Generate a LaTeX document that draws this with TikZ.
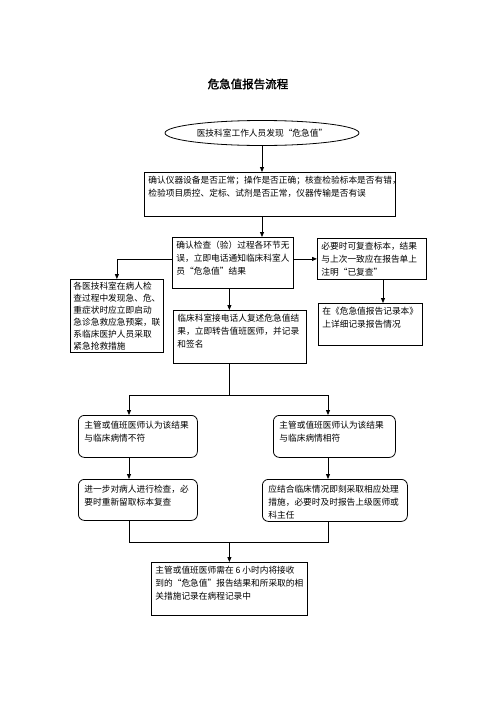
\documentclass[tikz,border=0pt]{standalone}
\usepackage{fontspec}
\usepackage{tikz}
\usetikzlibrary{arrows.meta,positioning,calc,shapes.geometric}
\newfontfamily\cjk{Noto Sans CJK SC}
\newfontfamily\cjkbf[FakeBold=2]{Noto Sans CJK SC}
\newcommand{\boxtxt}[3]{\parbox[c][#2pt][t]{#1pt}{#3}}

\begin{document}
\begin{tikzpicture}[
  x=1pt, y=-1pt,
  font=\cjk\fontsize{8.7}{13}\selectfont,
  box/.style={draw=black, line width=0.8pt, inner sep=4pt, anchor=north west},
  rbox/.style={box, rounded corners=6pt, inner sep=6pt},
  start/.style={ellipse, draw=black, line width=0.8pt, minimum width=194pt, minimum height=25pt, inner sep=0pt},
  arr/.style={-{Triangle[length=5pt,width=4pt]}, line width=0.8pt},
  ln/.style={line width=0.8pt},
]
\useasboundingbox (0,0) rectangle (496,702);
% title
\node[font=\cjkbf\fontsize{11.5}{14}\selectfont] (title) at (248,84) {危急值报告流程};
% start
\node[start] (el) at (262,133) {医技科室工作人员发现“危急值”};
% boxes
\node[box] (b2) at (144,172) {\boxtxt{243}{36}{确认仪器设备是否正常；操作是否正确；核查检验标本是否有错，\\检验项目质控、定标、试剂是否正常，仪器传输是否有误}};
\node[box] (b3) at (172,237) {\boxtxt{113}{43}{确认检查（验）过程各环节无\\误，立即电话通知临床科室人\\员“危急值”结果}};
\node[box] (b4) at (317,238) {\boxtxt{101}{33}{必要时可复查标本，结果\\与上次一致应在报告单上\\注明“已复查”}};
\node[box, inner sep=3pt, font=\cjk\fontsize{8.7}{12}\selectfont] (b5) at (70,279) {\boxtxt{87}{67}{各医技科室在病人检\\查过程中发现急、危、\\重症状时应立即启动\\急诊急救应急预案，联\\系临床医护人员采取\\紧急抢救措施}};
\node[box] (b6) at (173,310) {\boxtxt{125}{45}{临床科室接电话人复述危急值结\\果，立即转告值班医师，并记录\\和签名}};
\node[box] (b7) at (318,303) {\boxtxt{96}{34}{在《危急值报告记录本》\\上详细记录报告情况}};
% rounded boxes
\node[rbox] (b8) at (78,415) {\boxtxt{107}{30}{主管或值班医师认为该结果\\与临床病情不符}};
\node[rbox] (b9) at (273,415) {\boxtxt{110}{30}{主管或值班医师认为该结果\\与临床病情相符}};
\node[rbox] (b10) at (78,479) {\boxtxt{107}{29}{进一步对病人进行检查，必\\要时重新留取标本复查}};
\node[rbox] (b11) at (262,479) {\boxtxt{133}{30}{应结合临床情况即刻采取相应处理\\措施，必要时及时报告上级医师或\\科主任}};
% last
\node[box] (b12) at (151,562) {\boxtxt{148}{45}{主管或值班医师需在 6 小时内将接收\\到的“危急值”报告结果和所采取的相\\关措施记录在病程记录中}};

% joints
\coordinate (r) at (383,0);
\coordinate (jl) at (129,395);
\coordinate (jr) at (328,395);
\coordinate (kl) at (129,542);
\coordinate (kr) at (328,542);

% connectors
\draw[arr] (el.south) -- (el.south |- b2.north);
\draw[arr] (b2.south -| el.south) -- (b3.north -| el.south);
\draw[arr] (b3.east |- b4.west) -- (b4.west);
\draw[arr] (b3.west |- b4.west) -| (b5.north);
\draw[arr] (b3.south -| b12.north) -- (b6.north -| b12.north);
\draw[arr] (b4.south -| r) -- (b7.north -| r);
\draw[ln] (b6.south -| b12.north) -- (b12.north |- jl);
\draw[ln] (jl) -- (jr);
\draw[arr] (jl) -- (b8.north -| jl);
\draw[arr] (jr) -- (b9.north -| jr);
\draw[arr] (b8.south -| jl) -- (b10.north -| jl);
\draw[arr] (b9.south -| jr) -- (b11.north -| jr);
\draw[ln] (b10.south -| kl) -- (kl) -- (kr) -- (b11.south -| kr);
\draw[arr] (b12.north |- kl) -- (b12.north);
\end{tikzpicture}
\end{document}
